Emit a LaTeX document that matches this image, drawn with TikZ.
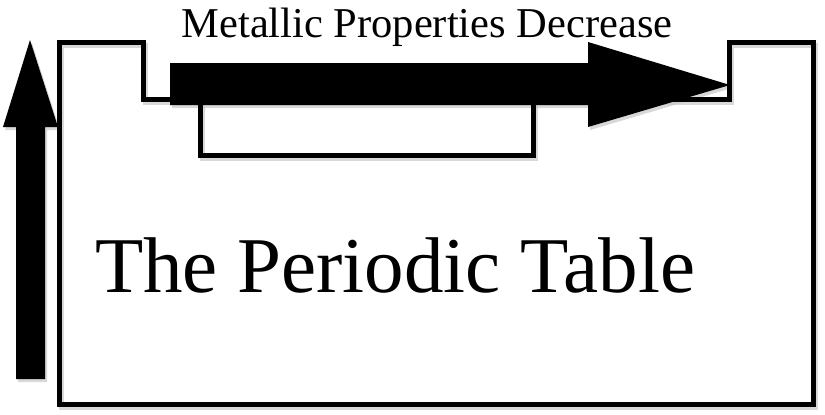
\documentclass[tikz,border=0pt]{standalone}
\usepackage{fontspec}
\setmainfont{Liberation Serif}
\usepackage{tikz}

\tikzset{
  outline/.style={line width=5pt,line join=miter},
  shade/.style={black!22,opacity=0.7},
  blockarrow/.style={fill=black,draw=none},
  title/.style={anchor=base,font=\fontsize{42.5}{46}\selectfont},
  bigtitle/.style={anchor=base,font=\fontsize{79}{83}\selectfont}
}

\begin{document}
\begin{tikzpicture}[x=1pt,y=-1pt]
\useasboundingbox (0,0) rectangle (825,415);
% shadows
\begin{scope}[shift={(2,3)}]
\draw[outline,shade] (59,42) -- (143,42) -- (143,99) -- (729,99) -- (729,42) -- (813,42) -- (813,404) -- (59,404) -- cycle;
\draw[outline,shade] (200,99) -- (200,155) -- (533,155) -- (533,99);
\fill[shade] (16,379) -- (16,127) -- (3,127) -- (30,40) -- (58,127) -- (45,127) -- (45,379) -- cycle;
\fill[shade] (170,63) -- (588,63) -- (588,42) -- (730,85) -- (588,127) -- (588,105) -- (170,105) -- cycle;
\end{scope}
% table outline
\draw[outline] (59,42) -- (143,42) -- (143,99) -- (729,99) -- (729,42) -- (813,42) -- (813,404) -- (59,404) -- cycle;
\draw[outline] (200,99) -- (200,155) -- (533,155) -- (533,99);
% arrows
\fill[blockarrow] (16,379) -- (16,127) -- (3,127) -- (30,40) -- (58,127) -- (45,127) -- (45,379) -- cycle;
\fill[blockarrow] (170,63) -- (588,63) -- (588,42) -- (730,85) -- (588,127) -- (588,105) -- (170,105) -- cycle;
% labels
\node[title] (metal) at (427,37) {Metallic Properties Decrease};
\node[bigtitle] (table) at (395,292) {The Periodic Table};
\end{tikzpicture}
\end{document}
